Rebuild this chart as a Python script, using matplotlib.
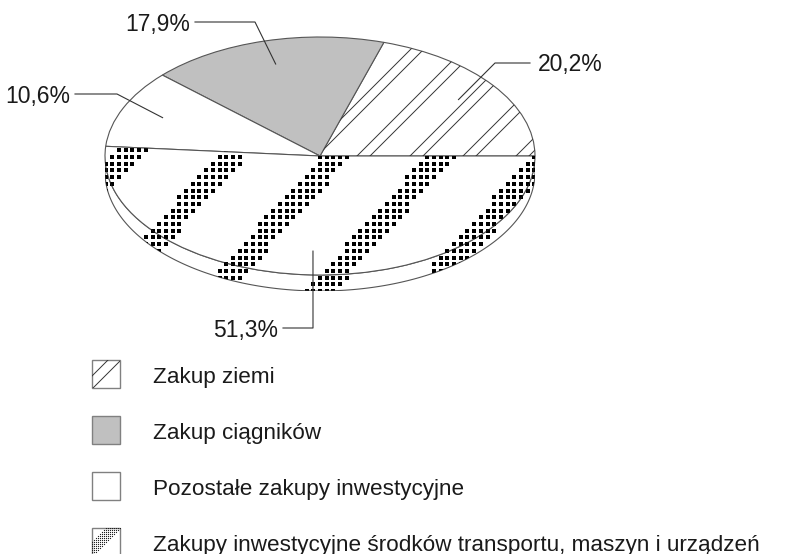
import numpy as np
import matplotlib
matplotlib.use('Agg')
import matplotlib.pyplot as plt
from matplotlib.transforms import Affine2D
from matplotlib.patches import Polygon, Rectangle
from matplotlib.collections import LineCollection

plt.rcParams['font.family'] = ['Liberation Sans', 'DejaVu Sans']

# data
categories = ['Zakup ziemi', 'Zakup ciągników', 'Pozostałe zakupy inwestycyjne',
              'Zakupy inwestycyjne środków transportu, maszyn i urządzeń']
shares = [20.2, 17.9, 10.6, 51.3]
share_labels = ['20,2%', '17,9%', '10,6%', '51,3%']

# figure in pixel units
W, H = 785, 554
fig = plt.figure(figsize=(W / 100, H / 100), dpi=100)
px = Affine2D().scale(1 / W, -1 / H).translate(0, 1) + fig.transFigure

# ellipse geometry (pixels)
cx, cy, rx, ry, depth = 320, 156, 215, 119, 16
d = depth / ry
edge = '#555555'
text_col = '#1a1a1a'

ax = fig.add_axes([(cx - rx) / W, 1 - (cy + ry + depth) / H, 2 * rx / W, (2 * ry + depth) / H])
wedges, _ = ax.pie(shares, startangle=0, counterclock=True,
                   colors=['white', '#c0c0c0', 'white', 'white'],
                   wedgeprops=dict(edgecolor=edge, linewidth=0.8))

# side of the "3d" pie
t = np.linspace(np.pi, 2 * np.pi, 200)
top = np.column_stack([np.cos(t), np.sin(t)])
bot = np.column_stack([np.cos(t[::-1]), np.sin(t[::-1]) - d])
side = Polygon(np.vstack([top, bot]), closed=True, facecolor='white',
               edgecolor=edge, linewidth=0.8, zorder=0.5)
ax.add_patch(side)

# diagonal lines on "Zakup ziemi"
segs = []
for k in range(-5, 5):
    for off in (0, 13):
        x0 = 357 + 53 * k + off
        segs.append([(x0 - 300, cy + 300), (x0 + 300, cy - 300)])
lc = LineCollection(segs, colors='#333333', linewidths=0.7, transform=px)
ax.add_collection(lc)
lc.set_clip_path(wedges[0])

# dotted stripes on the biggest slice (top and side)
gx = 320 + 6.7 * np.arange(-35, 35)
gy = 157 + 6.7 * np.arange(-3, 22)
X, Y = np.meshgrid(gx, gy)
band = ((X + 0.9 * (Y - 157) - 320) % 105) < 31
for clip in (wedges[3], side):
    sc = ax.scatter(X[band], Y[band], s=6.5, marker='s', c='black',
                    linewidths=0, transform=px, zorder=3)
    sc.set_clip_path(clip)

ax.set_aspect('auto')
ax.set_xlim(-1, 1)
ax.set_ylim(-1 - d, 1)
ax.axis('off')

# percentage labels with leader lines
to_px = ax.transData + px.inverted()
elbows = [(495, 63), (255, 22), (117, 94), (313, 328)]
ends = [(530, 63), (195, 22), (75, 94), (283, 328)]
aligns = ['left', 'right', 'right', 'right']
for w, lab, el, en, ha in zip(wedges, share_labels, elbows, ends, aligns):
    mid = np.deg2rad((w.theta1 + w.theta2) / 2)
    anchor = to_px.transform((0.8 * np.cos(mid), 0.8 * np.sin(mid)))
    fig.add_artist(plt.Line2D([anchor[0], el[0], en[0]], [anchor[1], el[1], en[1]],
                              color='#333333', linewidth=0.8, transform=px))
    tx = en[0] + 8 if ha == 'left' else en[0] - 5
    fig.text(tx, en[1] + 2, lab, ha=ha, va='center', fontsize=16.5,
             color=text_col, transform=px)

# legend
box_fill = ['white', '#c0c0c0', 'white', 'white']
for i, (name, fc) in enumerate(zip(categories, box_fill)):
    y0 = 360 + 56 * i
    rect = Rectangle((92, y0), 28, 28, facecolor=fc, edgecolor='#808080',
                     linewidth=1, transform=px)
    fig.add_artist(rect)
    if i == 0:
        s = []
        for c in (468 - 360, 481 - 360):
            s.append([(c - 40, y0 + 40), (c + 40, y0 - 40)])
        l = LineCollection(s, colors='#333333', linewidths=0.7, transform=px)
        fig.add_artist(l)
        l.set_clip_path(rect)
    if i == 3:
        bx, by = np.meshgrid(92 + 2 * np.arange(15), y0 + 2 * np.arange(15))
        m = ((bx + by - y0) > 632 - 527) & ((bx + by - y0) < 648 - 527)
        dots = plt.Line2D(bx[m], by[m], linestyle='none', marker='s', ms=0.8,
                          markeredgewidth=0, color='#222222', transform=px)
        fig.add_artist(dots)
        dots.set_clip_path(rect)
    fig.text(153, y0 + 23.5, name, ha='left', va='baseline', fontsize=16.2,
             color=text_col, transform=px)

fig.savefig('out.png', dpi=100, facecolor='white')
